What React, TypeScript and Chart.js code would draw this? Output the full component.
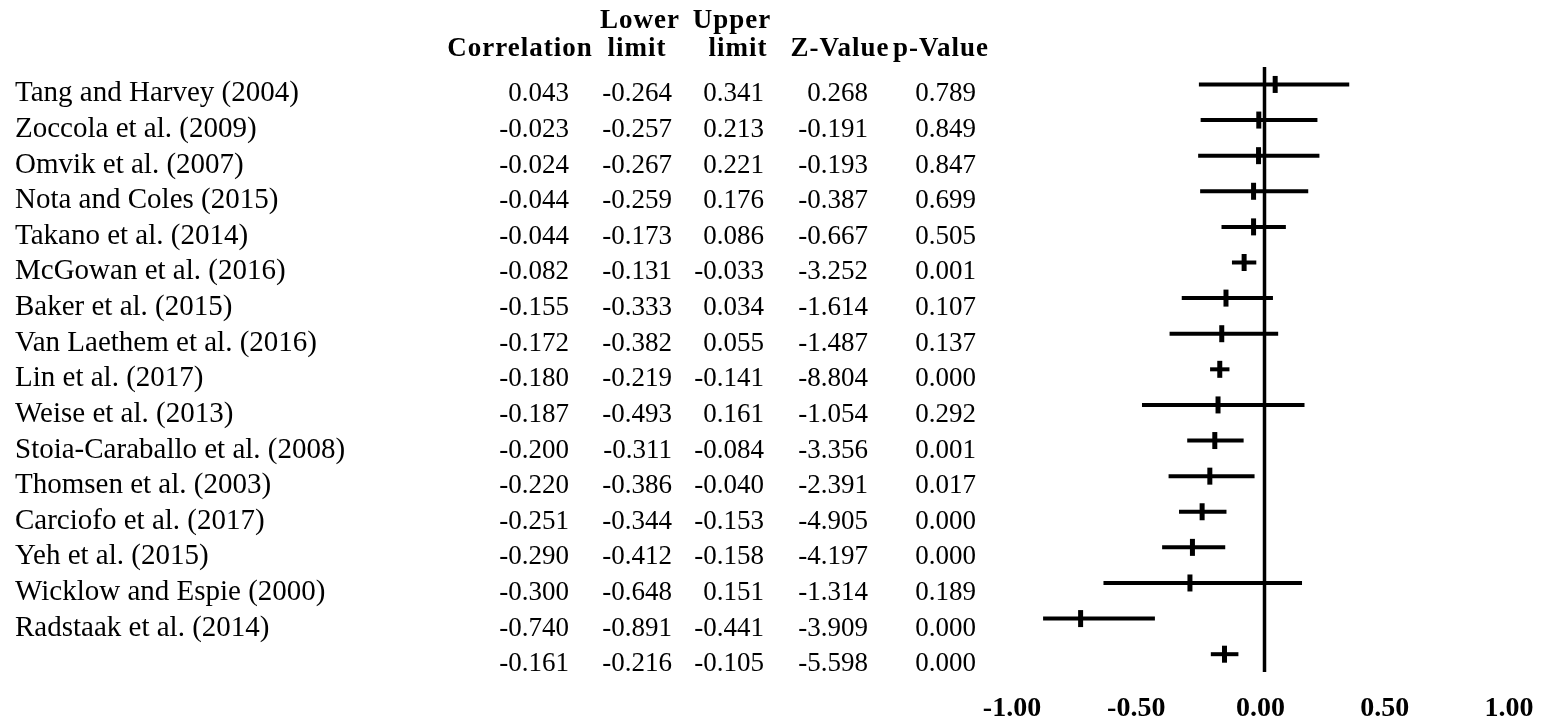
import React, { useEffect, useRef } from "react";
import { Chart, registerables } from "chart.js";

Chart.register(...registerables);

const studies = [
  "Tang and Harvey (2004)",
  "Zoccola et al. (2009)",
  "Omvik et al. (2007)",
  "Nota and Coles (2015)",
  "Takano et al. (2014)",
  "McGowan et al. (2016)",
  "Baker et al. (2015)",
  "Van Laethem et al. (2016)",
  "Lin et al. (2017)",
  "Weise et al. (2013)",
  "Stoia-Caraballo et al. (2008)",
  "Thomsen et al. (2003)",
  "Carciofo et al. (2017)",
  "Yeh et al. (2015)",
  "Wicklow and Espie (2000)",
  "Radstaak et al. (2014)",
  "",
];

const correlation = [0.043, -0.023, -0.024, -0.044, -0.044, -0.082, -0.155, -0.172, -0.18, -0.187, -0.2, -0.22, -0.251, -0.29, -0.3, -0.74, -0.161];
const lowerLimit = [-0.264, -0.257, -0.267, -0.259, -0.173, -0.131, -0.333, -0.382, -0.219, -0.493, -0.311, -0.386, -0.344, -0.412, -0.648, -0.891, -0.216];
const upperLimit = [0.341, 0.213, 0.221, 0.176, 0.086, -0.033, 0.034, 0.055, -0.141, 0.161, -0.084, -0.04, -0.153, -0.158, 0.151, -0.441, -0.105];
const zValue = [0.268, -0.191, -0.193, -0.387, -0.667, -3.252, -1.614, -1.487, -8.804, -1.054, -3.356, -2.391, -4.905, -4.197, -1.314, -3.909, -5.598];
const pValue = [0.789, 0.849, 0.847, 0.699, 0.505, 0.001, 0.107, 0.137, 0.0, 0.292, 0.001, 0.017, 0.0, 0.0, 0.189, 0.0, 0.0];

const xTicks = [-1, -0.5, 0, 0.5, 1];

const SERIF = "'Times New Roman', 'Liberation Serif', serif";

const tablePlugin = {
  id: "forestTable",
  afterDraw(chart: any) {
    const ctx = chart.ctx as CanvasRenderingContext2D;
    const yScale = chart.scales.y;
    ctx.save();
    ctx.fillStyle = "#000";
    ctx.textBaseline = "alphabetic";

    // headers
    ctx.font = `bold 27px ${SERIF}`;
    (ctx as any).letterSpacing = "1px";
    ctx.textAlign = "center";
    ctx.fillText("Lower", 640, 28);
    ctx.fillText("Upper", 732, 28);
    ctx.fillText("Correlation", 520, 56);
    ctx.fillText("limit", 637, 56);
    ctx.fillText("limit", 738, 56);
    ctx.fillText("Z-Value", 840, 56);
    ctx.fillText("p-Value", 941, 56);
    (ctx as any).letterSpacing = "0px";

    const cols = [
      { vals: correlation, x: 569 },
      { vals: lowerLimit, x: 672 },
      { vals: upperLimit, x: 764 },
      { vals: zValue, x: 868 },
      { vals: pValue, x: 976 },
    ];

    for (let i = 0; i < studies.length; i++) {
      const y = yScale.getPixelForValue(i) + 17;
      ctx.font = `29px ${SERIF}`;
      ctx.textAlign = "left";
      ctx.fillText(studies[i], 15, y);
      ctx.font = `27px ${SERIF}`;
      ctx.textAlign = "right";
      for (const c of cols) {
        ctx.fillText(c.vals[i].toFixed(3), c.x, y);
      }
    }
    ctx.restore();
  },
};

export default function App() {
  const ref = useRef<HTMLCanvasElement | null>(null);

  useEffect(() => {
    document.body.style.margin = "0";
    if (!ref.current) return;

    const ciDatasets = studies.map((_, i) => ({
      type: "scatter" as const,
      data: [
        { x: lowerLimit[i], y: i },
        { x: upperLimit[i], y: i },
      ],
      showLine: true,
      borderColor: "#000",
      borderWidth: 4,
      pointRadius: 0,
      borderCapStyle: "butt" as const,
    }));

    const chart = new Chart(ref.current, {
      type: "scatter",
      data: {
        datasets: [
          {
            data: [
              { x: 0, y: -0.49 },
              { x: 0, y: 16.5 },
            ],
            showLine: true,
            borderColor: "#000",
            borderWidth: 3.5,
            pointRadius: 0,
          },
          ...ciDatasets,
          {
            data: correlation.map((c, i) => ({ x: c, y: i })),
            showLine: false,
            pointStyle: "line",
            rotation: 90,
            pointRadius: 8.5,
            pointBorderWidth: 5,
            borderWidth: 5,
            borderColor: "#000",
            backgroundColor: "#000",
          } as any,
        ],
      },
      options: {
        animation: false,
        responsive: false,
        devicePixelRatio: 1,
        layout: { padding: { top: 67, left: 1016, right: 29, bottom: 0 } },
        plugins: {
          legend: { display: false },
          tooltip: { enabled: false },
        },
        scales: {
          x: {
            type: "linear",
            min: -1,
            max: 1,
            afterBuildTicks: (scale: any) => {
              scale.ticks = xTicks.map((v) => ({ value: v }));
            },
            afterFit: (scale: any) => {
              scale.height = 51;
              scale.paddingLeft = 0;
              scale.paddingRight = 0;
            },
            grid: { display: false, drawTicks: false },
            border: { display: false },
            ticks: {
              color: "#000",
              padding: 20,
              labelOffset: -4,
              maxRotation: 0,
              autoSkip: false,
              font: { family: SERIF, size: 28, weight: "bold" },
              callback: (v: any) => Number(v).toFixed(2),
            },
          },
          y: {
            type: "linear",
            display: false,
            reverse: true,
            min: -0.49,
            max: 16.5,
          },
        },
      },
      plugins: [tablePlugin],
    });

    return () => chart.destroy();
  }, []);

  return (
    <div style={{ width: 1542, height: 723, background: "#fff" }}>
      <canvas ref={ref} width={1542} height={723} style={{ display: "block" }} />
    </div>
  );
}
